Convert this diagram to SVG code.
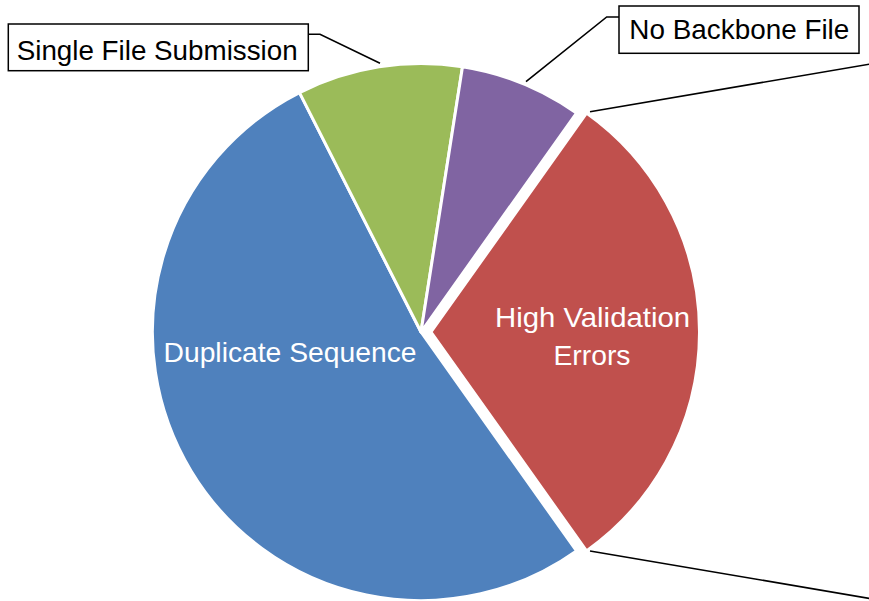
<svg xmlns="http://www.w3.org/2000/svg" width="869" height="601" viewBox="0 0 869 601">
<style>
.slice{stroke:#fff;stroke-width:3;stroke-linejoin:round}
.lbl{font-family:"Liberation Sans",Arial,sans-serif;font-size:28px}
.in{fill:#fff}
.out{fill:#000}
.box{fill:#fff;stroke:#000;stroke-width:1.5}
.lead{fill:none;stroke:#000;stroke-width:1.6}
</style>
<rect width="869" height="601" fill="#fff"/>
<g id="slice-duplicate">
<path class="slice" fill="#4F81BD" d="M421,332 L576.5,550.9 A268.5,268.5 0 1 1 299.5,92.6 Z"/>
<text class="lbl in" x="290" y="362" text-anchor="middle" textLength="253" lengthAdjust="spacingAndGlyphs">Duplicate Sequence</text>
</g>
<g id="slice-single">
<path class="slice" fill="#9BBB59" d="M421,332 L299.5,92.6 A268.5,268.5 0 0 1 462.5,66.7 Z"/>
</g>
<g id="slice-nobackbone">
<path class="slice" fill="#8064A2" d="M421,332 L462.5,66.7 A268.5,268.5 0 0 1 576.5,113.1 Z"/>
</g>
<g id="slice-high">
<path class="slice" fill="#C0504D" d="M431,332 L586.5,113.1 A268.5,268.5 0 0 1 586.5,550.9 Z"/>
<text class="lbl in" x="592.5" y="327" text-anchor="middle" textLength="195" lengthAdjust="spacingAndGlyphs">High Validation</text>
<text class="lbl in" x="592" y="365" text-anchor="middle" textLength="77" lengthAdjust="spacingAndGlyphs">Errors</text>
</g>
<g id="connectors">
<polyline class="lead" points="308,34.3 320,34.3 380,63.3"/>
<polyline class="lead" points="619,17 606.7,17 526,81.7"/>
<line class="lead" x1="590" y1="111.7" x2="870" y2="64.1"/>
<line class="lead" x1="590" y1="551" x2="870" y2="598.5"/>
</g>
<g id="label-single">
<rect class="box" x="8.3" y="24" width="300" height="46.7"/>
<text class="lbl out" x="16.7" y="60" textLength="281" lengthAdjust="spacingAndGlyphs">Single File Submission</text>
</g>
<g id="label-nobackbone">
<rect class="box" x="619" y="6" width="240" height="47.3"/>
<text class="lbl out" x="629.3" y="39" textLength="220" lengthAdjust="spacingAndGlyphs">No Backbone File</text>
</g>
</svg>
